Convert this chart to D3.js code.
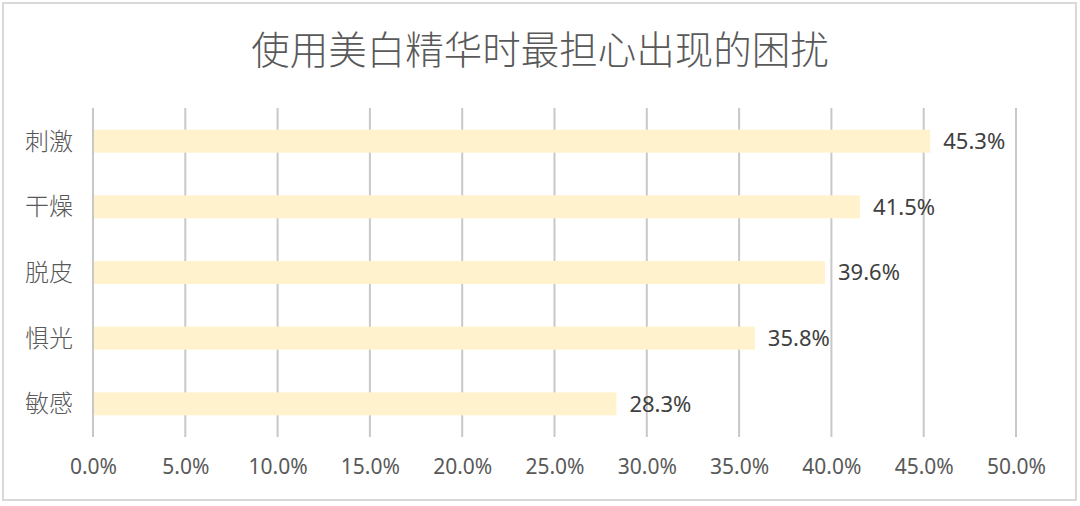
<!DOCTYPE html>
<html>
<head>
    <meta charset="utf-8">
    <title>使用美白精华时最担心出现的困扰</title>
    <script src="https://d3js.org/d3.v7.min.js"></script>
    <style>
        body { margin: 0; background: #fff; }
        text { font-family: "Noto Sans", "Noto Sans CJK SC", sans-serif; }
    </style>
</head>
<body>
    <svg width="1080" height="506"></svg>
    <script>
        // Data
        const categories = ["刺激", "干燥", "脱皮", "惧光", "敏感"];
        const values = [45.3, 41.5, 39.6, 35.8, 28.3];
        const ticks = [0, 5, 10, 15, 20, 25, 30, 35, 40, 45, 50];

        const W = 1080, H = 506;
        const margin = {top: 108, right: 64, bottom: 69, left: 93};
        const width = W - margin.left - margin.right,
              height = H - margin.top - margin.bottom;

        const svg = d3.select("svg");

        // Outer border
        svg.append("rect")
            .attr("x", 3).attr("y", 3)
            .attr("width", 1073).attr("height", 497)
            .attr("fill", "#fff")
            .attr("stroke", "#d9d9d9")
            .attr("stroke-width", 2);

        // Title
        svg.append("text")
            .attr("x", 540).attr("y", 64)
            .attr("text-anchor", "middle")
            .attr("font-family", "'Noto Sans CJK SC', sans-serif")
            .attr("font-weight", 300)
            .attr("font-size", 38.5)
            .attr("fill", "#595959")
            .text("使用美白精华时最担心出现的困扰");

        const g = svg.append("g")
            .attr("transform", `translate(${margin.left},${margin.top})`);

        const x = d3.scaleLinear().domain([0, 50]).range([0, width]);
        const y = d3.scaleBand().domain(categories).range([0, height]).paddingInner(0.65).paddingOuter(0.33);

        // Gridlines
        g.selectAll(".grid")
          .data(ticks)
          .enter().append("line")
            .attr("x1", d => x(d)).attr("x2", d => x(d))
            .attr("y1", 0).attr("y2", height)
            .attr("stroke", "#c8c8c8")
            .attr("stroke-width", 2);

        // Bars
        g.selectAll(".bar")
          .data(values)
          .enter().append("rect")
            .attr("x", x(0) + 1)
            .attr("y", (d, i) => y(categories[i]))
            .attr("width", d => x(d) - x(0))
            .attr("height", y.bandwidth())
            .attr("fill", "#fff2cc");

        // Value labels
        g.selectAll(".val")
          .data(values)
          .enter().append("text")
            .attr("x", d => x(d) + 14)
            .attr("y", (d, i) => y(categories[i]) + y.bandwidth() / 2)
            .attr("dy", "0.36em")
            .attr("font-size", 22)
            .attr("fill", "#404040")
            .text(d => d.toFixed(1) + "%");

        // Category labels
        g.selectAll(".cat")
          .data(categories)
          .enter().append("text")
            .attr("x", -20)
            .attr("y", d => y(d) + y.bandwidth() / 2)
            .attr("dy", "0.36em")
            .attr("text-anchor", "end")
            .attr("font-family", "'Noto Sans CJK SC', sans-serif")
            .attr("font-weight", 300)
            .attr("font-size", 24)
            .attr("fill", "#595959")
            .text(d => d);

        // X axis
        const xAxis = g.append("g")
            .attr("transform", `translate(0,${height})`)
            .call(d3.axisBottom(x).tickValues(ticks).tickFormat(d => d.toFixed(1) + "%").tickSize(0).tickPadding(22));
        xAxis.select(".domain").remove();
        xAxis.selectAll("text")
            .attr("font-family", "'Noto Sans', sans-serif")
            .attr("font-size", 21)
            .attr("fill", "#595959");
    </script>
</body>
</html>
